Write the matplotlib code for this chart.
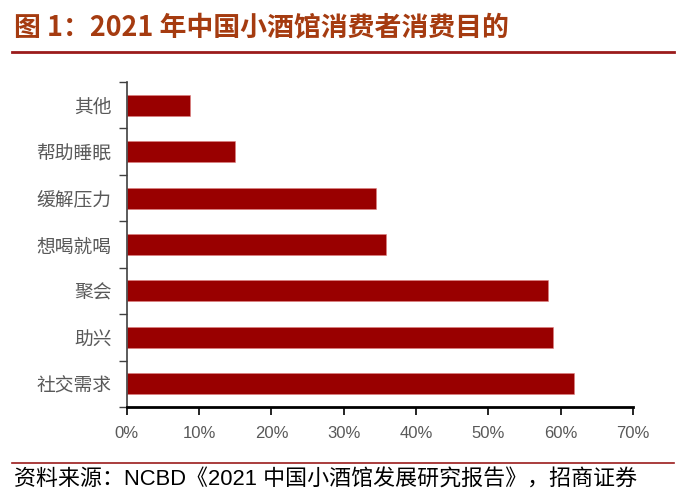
import matplotlib
matplotlib.use("Agg")
import matplotlib.pyplot as plt
from matplotlib.ticker import MultipleLocator, FuncFormatter, FixedLocator
from matplotlib.lines import Line2D

plt.rcParams['font.family'] = ['Noto Sans CJK SC', 'DejaVu Sans']

categories = ['其他', '帮助睡眠', '缓解压力', '想喝就喝', '聚会', '助兴', '社交需求']
values = [8.7, 15.0, 34.4, 35.8, 58.2, 58.9, 61.8]

title = '图 1：2021 年中国小酒馆消费者消费目的'
source = '资料来源：NCBD《2021 中国小酒馆发展研究报告》，招商证券'

fig = plt.figure(figsize=(6.86, 5.04), dpi=100)
ax = fig.add_axes([0.1848, 0.1925, 0.7379, 0.6448])

n = len(categories)
ypos = list(range(n))
ax.barh(ypos, values, height=0.45, color='#990000', edgecolor='#e08080', linewidth=0.4)
ax.set_ylim(n - 0.5, -0.5)
ax.set_xlim(0, 70)

ax.set_yticks(ypos)
ax.set_yticklabels(categories, fontsize=13.5, color='#595959')
ax.tick_params(axis='y', length=0, pad=11)
ax.yaxis.set_minor_locator(FixedLocator([i - 0.5 for i in range(n + 1)]))
ax.tick_params(axis='y', which='minor', length=6, width=1, color='#404040', direction='out')

ax.xaxis.set_major_locator(MultipleLocator(10))
ax.xaxis.set_major_formatter(FuncFormatter(lambda v, p: f'{int(round(v))}%'))
ax.tick_params(axis='x', length=6, width=1.2, color='black', labelsize=12, labelcolor='#595959', pad=8)
for lab in ax.get_xticklabels():
    lab.set_family(['Liberation Sans', 'DejaVu Sans'])

for s in ['top', 'right']:
    ax.spines[s].set_visible(False)
ax.spines['bottom'].set_linewidth(2.0)
ax.spines['bottom'].set_color('black')
ax.spines['left'].set_linewidth(1.2)
ax.spines['left'].set_color('#404040')

fig.text(0.021, 0.946, title, fontsize=19.4, fontweight='bold', color='#A53B10', va='center', ha='left')
fig.add_artist(Line2D([0.018, 0.983], [0.897, 0.897], color='#9B1B1B', linewidth=2, transform=fig.transFigure))
fig.add_artist(Line2D([0.018, 0.983], [0.081, 0.081], color='#9B1B1B', linewidth=1.2, transform=fig.transFigure))
fig.text(0.021, 0.047, source, fontsize=15.8, color='black', va='center', ha='left',
         family=['Liberation Sans', 'Noto Sans CJK SC'])

fig.savefig('out.png', dpi=100)
